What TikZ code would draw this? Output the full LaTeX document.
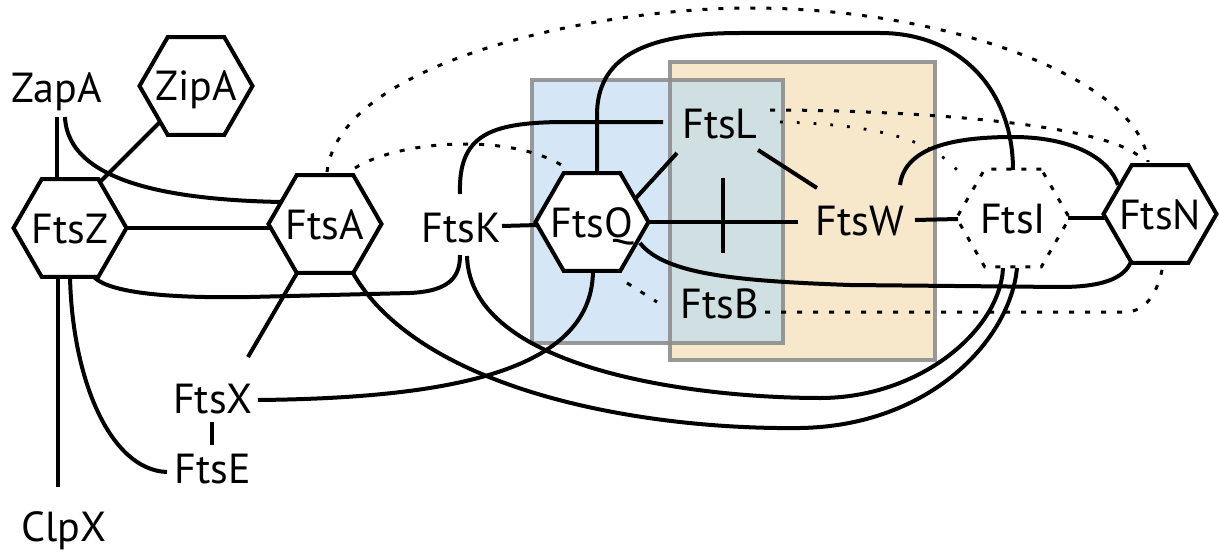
\documentclass[tikz,border=0pt]{standalone}
\usepackage{fontspec}
\setmainfont{PT Sans}
\usetikzlibrary{shapes.geometric}
\definecolor{boxblue}{HTML}{D5E7F7}
\definecolor{boxorange}{HTML}{F7E8CB}
\definecolor{boxmix}{HTML}{D0DFE1}
\definecolor{boxgray}{HTML}{8E8E8E}
\newcommand{\hx}[1]{\makebox[0pt]{#1}}
\begin{document}
\begin{tikzpicture}[x=0.5pt,y=-0.5pt,
  lbl/.style={font=\fontsize{21}{24}\selectfont, inner sep=0pt, text height=15pt, text depth=0pt},
  hex/.style={lbl, draw, line width=2pt, fill=white, regular polygon, regular polygon sides=6, minimum size=56.5pt},
  dhex/.style={hex, line width=1.5pt, dash pattern=on 2.5pt off 5pt},
  link/.style={line width=2pt},
  dots/.style={line width=1.5pt, dash pattern=on 2.5pt off 5.5pt},
  fine/.style={line width=1.4pt, dash pattern=on 1.4pt off 7pt},
  boxline/.style={draw=boxgray, line width=2pt, draw opacity=0.9}
  ]
\fill[white] (0,0) rectangle (1219,551);
\useasboundingbox (0,0) rectangle (1219,551);
% boxes
\fill[boxorange] (670,62) rectangle (935,360);
\fill[boxblue] (532,80) rectangle (783,343);
\fill[boxmix] (670,80) rectangle (783,343);
\draw[boxline] (670,62) rectangle (935,360);
\draw[boxline] (532,80) rectangle (783,343);
% nodes
\node[hex] (ZipA) at (196,86) {\hx{ZipA}};
\node[hex] (FtsZ) at (70,228) {\hx{FtsZ}};
\node[hex] (FtsA) at (325,224) {\hx{FtsA}};
\node[hex] (FtsQ) at (592,222) {\hx{FtsQ}};
\node[hex] (FtsN) at (1160,214) {\hx{FtsN}};
\node[dhex] (FtsI) at (1013,218) {\hx{FtsI}};
\node[lbl] (ZapA) at (57,88) {ZapA};
\node[lbl] (FtsX) at (213,398) {FtsX};
\node[lbl] (FtsE) at (213,468) {FtsE};
\node[lbl] (ClpX) at (64,526) {ClpX};
\node[lbl] (FtsK) at (461,227) {FtsK};
\node[lbl] (FtsL) at (720,123) {FtsL};
\node[lbl] (FtsW) at (860,220) {FtsW};
\node[lbl] (FtsB) at (720,303) {FtsB};
% solid connectors
\draw[link] ([shift={(0,29)}]ZapA.center) -- ([shift={(-13,-48)}]FtsZ.center);
\draw[link] ([shift={(8,29)}]ZapA.center) .. controls +(3,68) and +(-101,-2) .. ([shift={(-44,-22)}]FtsA.center);
\draw[link] ([shift={(-36,36)}]ZipA.center) -- ([shift={(30,-46)}]FtsZ.center);
\draw[link] ([shift={(56,0)}]FtsZ.center) -- ([shift={(-53,4)}]FtsA.center);
\draw[link] ([shift={(-12,48)}]FtsZ.center) -- ([shift={(-6,-39)}]ClpX.center);
\draw[link] ([shift={(0,48)}]FtsZ.center) .. controls +(2,103) and +(-57,-2) .. ([shift={(-46,4)}]FtsE.center);
\draw[link] ([shift={(23,48)}]FtsZ.center) .. controls +(17,20) and +(-60,1) .. (250,297) -- (410,293) .. controls +(42,-2) and +(0,20) .. ([shift={(-1,28)}]FtsK.center);
\draw[link] ([shift={(-28,49)}]FtsA.center) -- ([shift={(35,-41)}]FtsX.center);
\draw[link] ([shift={(-1,24)}]FtsX.center) -- ([shift={(-1,-23)}]FtsE.center);
\draw[link] ([shift={(45,2)}]FtsX.center) .. controls +(202,-2) and +(0,98) .. ([shift={(1,48)}]FtsQ.center);
\draw[link] ([shift={(28,49)}]FtsA.center) .. controls +(67,117) and +(-160,2) .. (800,428) .. controls +(130,-2) and +(-7,72) .. ([shift={(4,50)}]FtsI.center);
\draw[link] ([shift={(6,29)}]FtsK.center) .. controls +(3,115) and +(-120,0) .. (820,398) .. controls +(100,0) and +(-3,62) .. ([shift={(-10,50)}]FtsI.center);
\draw[link] ([shift={(41,-1)}]FtsK.center) -- ([shift={(-54,3)}]FtsQ.center);
\draw[link] ([shift={(-1,-33)}]FtsK.center) .. controls +(-2,-59) and +(-70,1) .. (560,122) -- ([shift={(-57,-1)}]FtsL.center);
\draw[link] ([shift={(5,-48)}]FtsQ.center) -- (597,115) .. controls +(0,-55) and +(-100,0) .. (740,33) -- (880,33) .. controls +(80,0) and +(0,-80) .. ([shift={(0,-48)}]FtsI.center);
\draw[link] ([shift={(44,-24)}]FtsQ.center) -- ([shift={(-43,30)}]FtsL.center);
\draw[link] ([shift={(55,0)}]FtsQ.center) -- ([shift={(-62,2)}]FtsW.center);
\draw[link] ([shift={(131,-44)}]FtsQ.center) -- ([shift={(131,31)}]FtsQ.center);
\draw[link] ([shift={(38,27)}]FtsL.center) -- ([shift={(-43,-32)}]FtsW.center);
\draw[link] ([shift={(48,21)}]FtsQ.center) .. controls +(25,32) and +(-110,-4) .. (850,285) -- (1060,287) .. controls +(50,0) and +(-6,13) .. ([shift={(-29,48)}]FtsN.center);
\draw[link] ([shift={(55,0)}]FtsW.center) -- ([shift={(-55,1)}]FtsI.center);
\draw[link] ([shift={(55,0)}]FtsI.center) -- ([shift={(-53,4)}]FtsN.center);
\draw[link] ([shift={(40,-35)}]FtsW.center) .. controls +(5,-40) and +(-53,0) .. (1013,137) .. controls +(62,0) and +(-8,-25) .. ([shift={(-42,-29)}]FtsN.center);
% dotted connectors
\draw[dots] ([shift={(2,-52)}]FtsA.center) .. controls +(13,-112) and +(-150,0) .. (750,8) .. controls +(200,0) and +(-8,-82) .. ([shift={(-12,-52)}]FtsN.center);
\draw[dots] ([shift={(30,-56)}]FtsA.center) .. controls +(45,-28) and +(-53,-33) .. ([shift={(-29,-56)}]FtsQ.center);
\draw[dots] ([shift={(50,-13)}]FtsL.center) .. controls +(130,0) and +(-40,-35) .. ([shift={(-20,-57)}]FtsN.center);
\draw[fine] ([shift={(60,-1)}]FtsL.center) .. controls +(80,2) and +(-28,-43) .. ([shift={(-50,-40)}]FtsI.center);
\draw[dots] ([shift={(35,61)}]FtsQ.center) -- ([shift={(-63,-1)}]FtsB.center);
\draw[dots] ([shift={(45,9)}]FtsB.center) -- (1125,312) .. controls +(20,0) and +(-5,29) .. ([shift={(3,51)}]FtsN.center);
\end{tikzpicture}
\end{document}
